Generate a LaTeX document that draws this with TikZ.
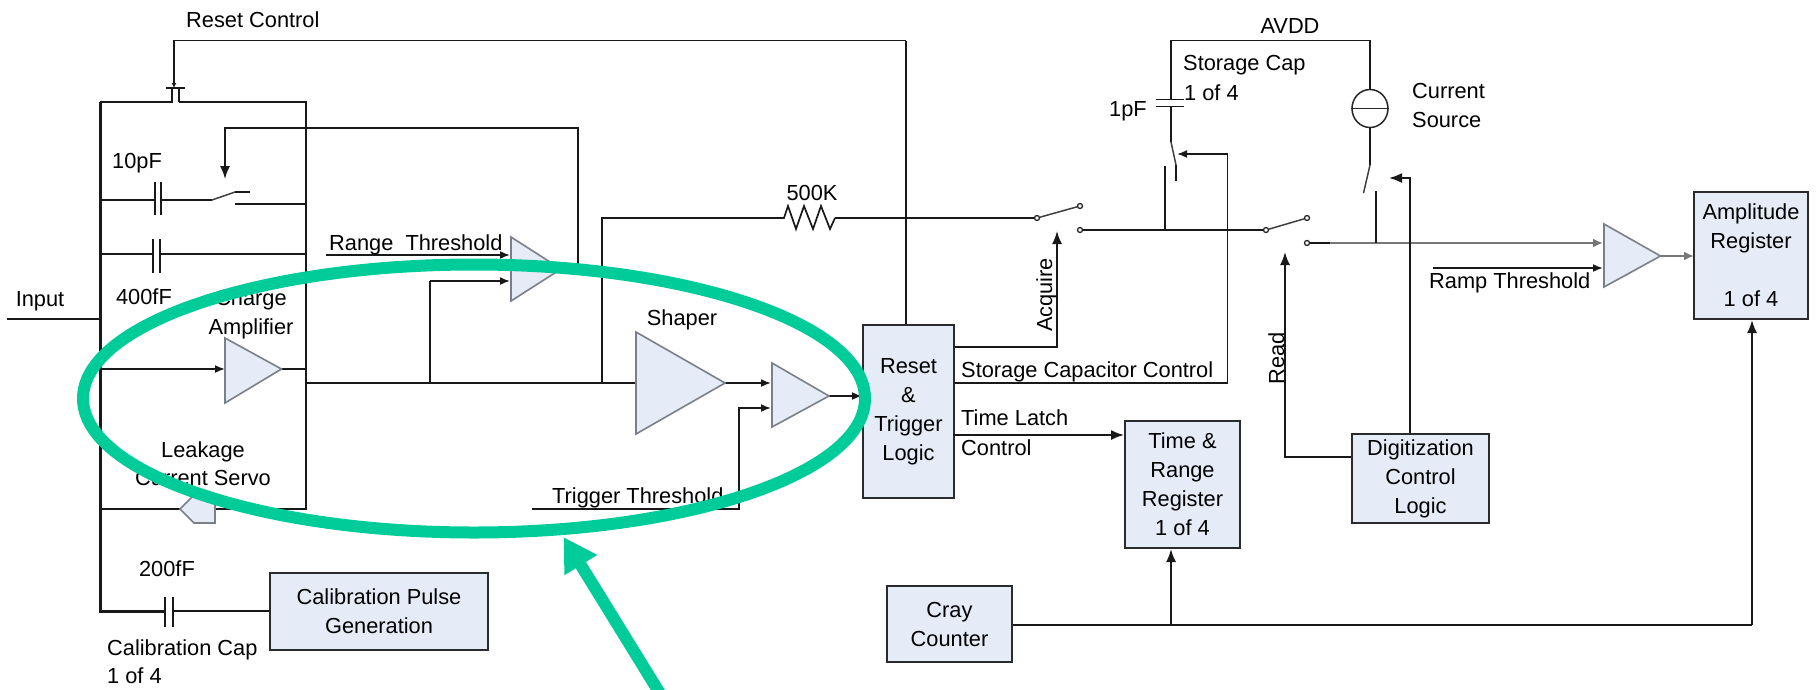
\documentclass[tikz,border=0pt]{standalone}
\usepackage{fontspec}
\setmainfont{Liberation Sans}
\usetikzlibrary{arrows.meta,shapes.geometric}
\definecolor{boxfill}{HTML}{E6ECF7}
\definecolor{boxline}{HTML}{2B2B2B}
\definecolor{triline}{HTML}{7A7F88}
\definecolor{hlgreen}{HTML}{00CC99}
\definecolor{wiregray}{HTML}{777777}
\tikzset{
  x=1pt,y=-1pt,
  wire/.style={line width=1.7pt,draw=black!90},
  bus/.style={line width=3pt,draw=black!90},
  thinarrow/.style={wire,-{Latex[length=10pt,width=8pt]}},
  bigarrow/.style={wire,-{Latex[length=13pt,width=10pt]}},
  plate/.style={line width=1.8pt,draw=black!90},
  blade/.style={line width=1.5pt,draw=black!75},
  block/.style={draw=boxline,line width=2pt,fill=boxfill,align=center,inner sep=0pt,
    font=\fontsize{21.8}{29}\selectfont,anchor=center},
  amp/.style={draw=triline,line width=1.6pt,fill=boxfill,line join=miter},
  lbl/.style={inner sep=0pt,font=\fontsize{21.8}{29}\selectfont},
  contact/.style={circle,draw=black!85,line width=1.3pt,fill=white,inner sep=0pt,minimum size=5pt},
}
\begin{document}
\begin{tikzpicture}
\clip (0,0) rectangle (1816,689);
\fill[white] (0,0) rectangle (1816,689);

% blocks
\node[block,minimum width=218pt,minimum height=77pt] (cal) at (379,611.5) {Calibration Pulse\\Generation};
\node[block,minimum width=91pt,minimum height=173pt] (rst) at (908.5,411.5) {Reset\\\&\\Trigger\\Logic};
\node[block,minimum width=115pt,minimum height=127pt] (trr) at (1182.5,484.5) {Time \&\\Range\\Register\\1 of 4};
\node[block,minimum width=125pt,minimum height=76pt] (cnt) at (949.5,624) {Cray\\Counter};
\node[block,minimum width=137pt,minimum height=89pt] (dig) at (1420.5,478.5) {Digitization\\Control\\Logic};
\node[block,minimum width=114pt,minimum height=127pt] (reg) at (1751,255.5) {Amplitude\\Register\\\mbox{}\\1 of 4};

% coordinates
\coordinate (inL) at (7,319);
\coordinate (inB) at (100,319);
\coordinate (busTL) at (100,102);
\coordinate (busBL) at (100,611);
\coordinate (tL) at (172,102);
\coordinate (tR) at (179,102);
\coordinate (tLu) at (172,88);
\coordinate (tRu) at (179,88);
\coordinate (gL) at (166,88);
\coordinate (gR) at (185,88);
\coordinate (gIn) at (174,88);
\coordinate (topL) at (174,40.5);
\coordinate (busTR) at (306,102);
\coordinate (busBR) at (306,509);
\coordinate (topR) at (906,40.5);
% 10pF
\coordinate (c1a) at (100,200); \coordinate (c1b) at (155,200); \coordinate (c1c) at (161,200); \coordinate (s1a) at (212,200);
\coordinate (s1b) at (235,192); \coordinate (s1c) at (250,192); \coordinate (s1d) at (235,204); \coordinate (s1e) at (306,204);
% 400fF
\coordinate (c2a) at (100,254); \coordinate (c2b) at (153,254); \coordinate (c2c) at (160,254); \coordinate (c2d) at (306,254);
% charge amp
\coordinate (a1in) at (100,369); \coordinate (a1t) at (225,338); \coordinate (a1b) at (225,403); \coordinate (a1o) at (281.5,369);
\coordinate (a1i) at (225,369); \coordinate (a1r) at (306,369);
% main
\coordinate (mL) at (306,383); \coordinate (mJ1) at (430,383); \coordinate (mJ2) at (602,383);
% range comparator
\coordinate (a2t) at (511,237); \coordinate (a2b) at (511,301); \coordinate (a2o) at (561,269);
\coordinate (rtL) at (326,255); \coordinate (rtE) at (510,255); \coordinate (a2u) at (430,281); \coordinate (a2i) at (510,281);
\coordinate (fbR) at (578,269); \coordinate (fbT) at (578,128); \coordinate (fbL) at (225,128); \coordinate (fbE) at (225,179);
% shaper
\coordinate (shT) at (636,332); \coordinate (shB) at (636,434); \coordinate (shO) at (725,383);
\coordinate (a3t) at (772,363); \coordinate (a3b) at (772,427); \coordinate (a3o) at (829,396);
\coordinate (a3i1) at (771,383); \coordinate (a3i2) at (771,408); \coordinate (a3u) at (739,408); \coordinate (trd) at (739,509); \coordinate (trL) at (532,509);
% leakage
\coordinate (lkL) at (100,509);
% calibration cap
\coordinate (c3a) at (100,611); \coordinate (c3b) at (165,611); \coordinate (c3c) at (173,611);
% resistor path
\coordinate (rU) at (602,218); \coordinate (r1) at (784,218); \coordinate (r2) at (835,218);
% acquire switch
\node[contact] (sw1a) at (1037,218) {};
\node[contact] (sw1b) at (1080,206) {};
\node[contact] (sw1c) at (1080,230) {};
\node[contact] (sw2a) at (1266,230) {};
\node[contact] (sw2b) at (1307,218) {};
\node[contact] (sw2c) at (1307,243) {};
% storage cap
\coordinate (stJ) at (1165,230); \coordinate (stC) at (1165,166); \coordinate (stD) at (1176,181); \coordinate (stE) at (1176,165);
\coordinate (stF) at (1171,142); \coordinate (stP1) at (1171,106.5); \coordinate (stP2) at (1171,99.5); \coordinate (stT) at (1171,40.5);
\coordinate (avR) at (1370,40.5);
% current source
\node[draw=black!85,line width=1.5pt,ellipse,minimum width=36pt,minimum height=38pt,inner sep=0pt] (cs) at (1370,108.5) {};
\coordinate (csB) at (1370,165); \coordinate (csE) at (1363.5,193); \coordinate (csF) at (1376,191); \coordinate (csJ) at (1376,243);
% amp final
\coordinate (a4t) at (1604,224); \coordinate (a4b) at (1604,287); \coordinate (a4o) at (1660.5,256);
\coordinate (wG) at (1330,243); \coordinate (a4i1) at (1603,243); \coordinate (rmL) at (1433,268); \coordinate (a4i2) at (1603,268);
\coordinate (regIn) at (1694,256);
% controls
\coordinate (acA) at (1057,346.7); \coordinate (acE) at (1057,231);
\coordinate (scR) at (1227.5,383); \coordinate (scT) at (1227.5,154); \coordinate (scE) at (1177,154);
\coordinate (rdB) at (1285,457); \coordinate (rdE) at (1285,252);
\coordinate (dgT) at (1410,178); \coordinate (dgE) at (1389,178);
\coordinate (cntJ) at (1171,625); \coordinate (cntR) at (1752,625);

% wires
\draw[wire] (inL) -- (inB);
\draw[bus] (busTL) -- (busBL) -- (c3b);
\draw[wire] (busTL) -- (tL) -- (tLu);
\draw[wire] (tR) -- (tRu);
\draw[wire] (tR) -- (busTR) -- (busBR) -- (lkL);
\draw[wire] (gL) -- (gR);
\draw[wire,-{Latex[length=5pt,width=5pt]}] (topR) -- (topL) -- (gIn);
\draw[wire] (rst.north -| topR) -- (topR);
% 10pF branch
\draw[wire] (c1a) -- (c1b); \draw[wire] (c1c) -- (s1a);
\draw[plate] (155,182) -- (155,215); \draw[plate] (161,182) -- (161,215);
\draw[blade] (s1a) -- (s1b); \draw[wire] (s1b) -- (s1c); \draw[wire] (s1d) -- (s1e);
\draw[wire] (c2a) -- (c2b); \draw[wire] (c2c) -- (c2d);
\draw[plate] (153,239) -- (153,273); \draw[plate] (160,239) -- (160,273);
\draw[thinarrow] (a1in) -- (a1i);
\draw[wire] (a1o) -- (a1r);
\draw[wire] (mL) -- (shT |- mL);
\draw[wire] (mJ1) -- (a2u);
\draw[thinarrow] (a2u) -- (a2i);
\draw[thinarrow] (rtL) -- (rtE);
\draw[bigarrow] (a2o) -- (fbR) -- (fbT) -- (fbL) -- (fbE);
\draw[thinarrow] (shO) -- (a3i1);
\draw[thinarrow] (trL) -- (trd) -- (a3u) -- (a3i2);
\draw[thinarrow] (a3o) -- (rst.west |- a3o);
% 500K resistor
\draw[wire] (mJ2) -- (rU) -- (r1) -- (788,206) -- (796,229) -- (804,206) -- (813,229) -- (821,206) -- (830,229) -- (r2);
\draw[wire] (r2) -- (sw1a);
\draw[blade] (sw1a) -- (sw1b);
\draw[wire] (sw1c) -- (sw2a);
\draw[blade] (sw2a) -- (sw2b);
\draw[wire] (sw2c) -- (wG);
\draw[line width=2.4pt,draw=wiregray,-{Latex[length=10pt,width=9pt]}] (wG) -- (a4i1);
\draw[wire] (stJ) -- (stC);
\draw[wire] (stD) -- (stE);
\draw[blade] (stE) -- (stF);
\draw[wire] (stF) -- (stP1);
\draw[wire] (stP2) -- (stT) -- (avR) -- (cs.north);
\draw[plate] (1156,99.5) -- (1184,99.5); \draw[plate] (1156,106.5) -- (1184,106.5);
\draw[line width=1.5pt,draw=black!85] (cs.west) -- (cs.east);
\draw[wire] (cs.south) -- (csB);
\draw[blade] (csB) -- (csE);
\draw[wire] (csF) -- (csJ);
\draw[thinarrow] (rmL) -- (a4i2);
\draw[line width=2.2pt,draw=wiregray,-{Latex[length=10pt,width=9pt]}] (a4o) -- (regIn);
\draw[bigarrow] (rst.east |- acA) -- (acA) -- (acE);
\draw[thinarrow] (rst.east |- scR) -- (scR) -- (scT) -- (scE);
\draw[bigarrow] (trr.west |- 954,435) ++(-171,0) -- (trr.west |- 954,435);
\draw[bigarrow] (dig.west |- rdB) -- (rdB) -- (rdE);
\draw[bigarrow] (dig.north -| dgT) -- (dgT) -- (dgE);
\draw[wire] (cnt.east |- cntJ) -- (cntR);
\draw[bigarrow] (cntJ) -- (trr.south -| cntJ);
\draw[bigarrow] (cntR) -- (reg.south -| cntR);
\draw[wire] (c3c) -- (cal.west |- c3c);
\draw[plate] (165,597) -- (165,627); \draw[plate] (173,597) -- (173,627);

% amplifiers
\draw[amp] (a1t) -- (a1o) -- (a1b) -- cycle;
\draw[amp] (a2t) -- (a2o) -- (a2b) -- cycle;
\draw[amp] (shT) -- (shO) -- (shB) -- cycle;
\draw[amp] (a3t) -- (a3o) -- (a3b) -- cycle;
\draw[amp] (a4t) -- (a4o) -- (a4b) -- cycle;
\draw[amp] (180,509) -- (192,497) -- (215,497) -- (215,523) -- (194,523) -- cycle;

% labels
\node[lbl,anchor=base west] (lReset) at (186,27) {Reset Control};
\node[lbl,anchor=base] (l10p) at (137,168) {10pF};
\node[lbl,anchor=base] (l400) at (144,304) {400fF};
\node[lbl,anchor=base] (lIn) at (40,306) {Input};
\node[lbl,anchor=base west] (lRange) at (329,250) {Range\ \ Threshold};
\node[lbl,anchor=base] (lChg) at (251,305) {Charge};
\node[lbl,anchor=base] (lAmp) at (251,334) {Amplifier};
\node[lbl,anchor=base] (lLeak) at (203,457) {Leakage};
\node[lbl,anchor=base] (lSrv) at (203,485) {Current Servo};
\node[lbl,anchor=base] (l200) at (167,576) {200fF};
\node[lbl,anchor=base west] (lCap) at (107,655) {Calibration Cap};
\node[lbl,anchor=base west] (lOf) at (107,683) {1 of 4};
\node[lbl,anchor=base west] (lTrig) at (552,503) {Trigger Threshold};
\node[lbl,anchor=base] (lShp) at (682,325) {Shaper};
\node[lbl,anchor=base] (l500) at (812,200) {500K};
\node[lbl,anchor=base,rotate=90] (lAcq) at (1052,295) {Acquire};
\node[lbl,anchor=base,rotate=90] (lRead) at (1284,358) {Read};
\node[lbl,anchor=base west] (lSc) at (961,377) {Storage Capacitor Control};
\node[lbl,anchor=base west] (lTl) at (961,425) {Time Latch};
\node[lbl,anchor=base west] (lCt) at (961,455) {Control};
\node[lbl,anchor=base] (lAv) at (1290,33) {AVDD};
\node[lbl,anchor=base west] (lSt) at (1183,70) {Storage Cap};
\node[lbl,anchor=base west] (lSo) at (1184,100) {1 of 4};
\node[lbl,anchor=base] (l1p) at (1128,116) {1pF};
\node[lbl,anchor=base west] (lCu) at (1412,98) {Current};
\node[lbl,anchor=base west] (lSr) at (1412,127) {Source};
\node[lbl,anchor=base west] (lRamp) at (1429,288) {Ramp Threshold};

% highlight
\node[ellipse,draw=hlgreen,line width=12pt,minimum width=782pt,minimum height=268pt,inner sep=0pt] (hl) at (474,398.5) {};
\coordinate (arS) at (664,700);
\coordinate (arE) at (563.5,537);
\draw[hlgreen,line width=12pt,-{Triangle[length=33pt,width=36pt]}] (arS) -- (arE);
\end{tikzpicture}
\end{document}
